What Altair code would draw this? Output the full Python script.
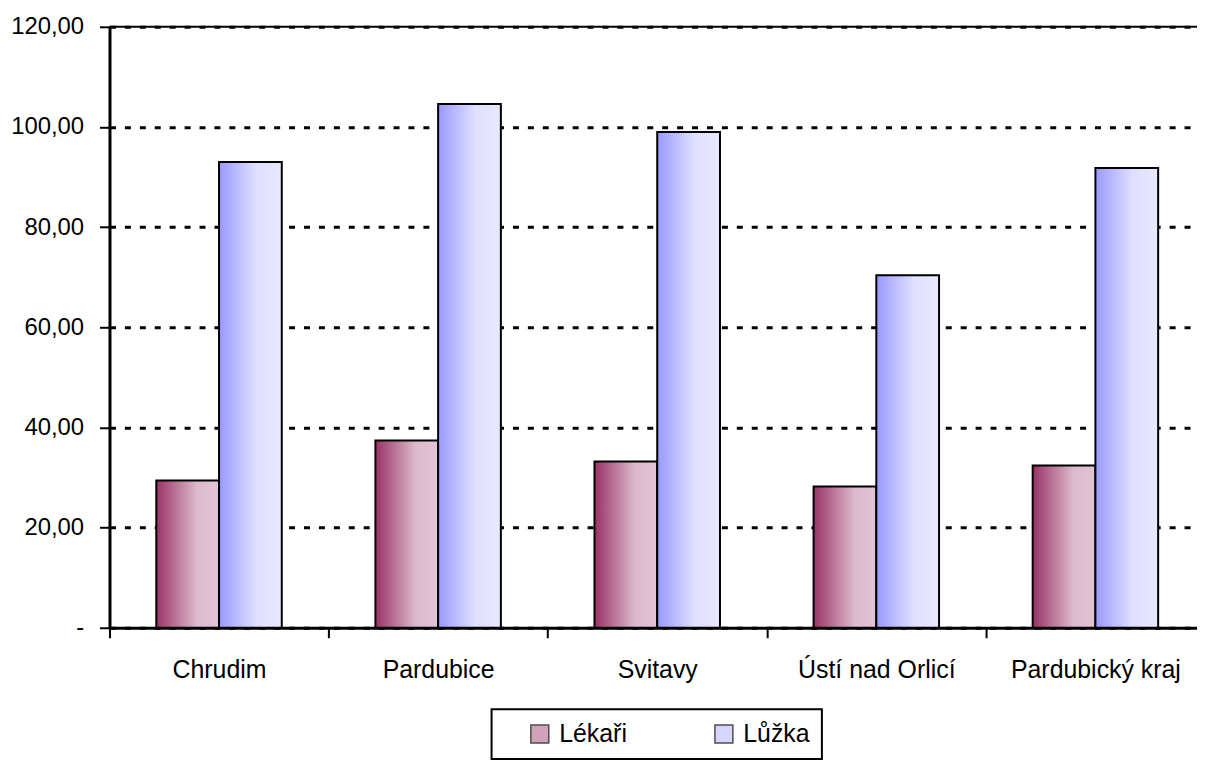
import altair as alt
import pandas as pd

categories = ["Chrudim", "Pardubice", "Svitavy", "Ústí nad Orlicí", "Pardubický kraj"]
series = ["Lékaři", "Lůžka"]
lekari = [29.4, 37.4, 33.2, 28.2, 32.4]
luzka = [93.0, 104.6, 99.0, 70.4, 91.8]
y_ticks = [0, 20, 40, 60, 80, 100, 120]

rows = []
for c, a, b in zip(categories, lekari, luzka):
    rows.append({"kraj": c, "serie": series[0], "hodnota": a})
    rows.append({"kraj": c, "serie": series[1], "hodnota": b})
df = pd.DataFrame(rows)
top_df = pd.DataFrame({"top": [y_ticks[-1]]})

FONT = "Liberation Sans"
FS = 25

grad_lek = alt.Gradient(
    gradient="linear", x1=0, x2=1, y1=0, y2=0,
    stops=[alt.GradientStop(offset=0, color="#993366"),
           alt.GradientStop(offset=0.65, color="#dcbacb"),
           alt.GradientStop(offset=1, color="#e2c4d4")])
grad_luz = alt.Gradient(
    gradient="linear", x1=0, x2=1, y1=0, y2=0,
    stops=[alt.GradientStop(offset=0, color="#9999ff"),
           alt.GradientStop(offset=0.6, color="#e0e0ff"),
           alt.GradientStop(offset=1, color="#e8e8ff")])

x_enc = alt.X("kraj:N", sort=categories, title=None,
              scale=alt.Scale(range=[0, 1101], paddingInner=0, paddingOuter=0),
              axis=alt.Axis(labelAngle=0, tickBand="extent", labelPadding=20))
xo_enc = alt.XOffset("serie:N", scale=alt.Scale(domain=series, paddingInner=0, paddingOuter=0.746))
y_enc = alt.Y("hodnota:Q", title=None,
              scale=alt.Scale(domain=[0, 120], nice=False),
              axis=alt.Axis(values=y_ticks, grid=True, gridColor="black", gridWidth=3,
                            gridDash=[6, 9], gridOpacity=1, labelPadding=16, labelFontSize=24,
                            labelExpr="datum.value == 0 ? '-' : replace(format(datum.value, '.2f'), '.', ',')"))

base = alt.Chart(df)

bars_lek = base.transform_filter(alt.datum.serie == series[0]).mark_bar(
    color=grad_lek, stroke="black", strokeWidth=2
).encode(x=x_enc, xOffset=xo_enc, y=y_enc)

bars_luz = base.transform_filter(alt.datum.serie == series[1]).mark_bar(
    color=grad_luz, stroke="black", strokeWidth=2
).encode(x=x_enc, xOffset=xo_enc, y=y_enc)

legend_layer = base.transform_filter("false").mark_square(size=1).encode(
    fill=alt.Fill("serie:N", scale=alt.Scale(domain=series, range=["#c07c9e", "#c4c4ff"]),
                  legend=alt.Legend(title=None, orient="none", legendX=384, legendY=686,
                                    direction="horizontal"))
)

top_rule = alt.Chart(top_df).mark_rule(color="black", strokeWidth=2).encode(
    y=alt.Y("top:Q", scale=alt.Scale(domain=[0, 120], nice=False))
)

chart = alt.layer(bars_lek, bars_luz, top_rule, legend_layer).properties(
    width=1093, height=604,
    autosize=alt.AutoSizeParams(type="none"),
    padding={"left": 102, "top": 17, "right": 0, "bottom": 131},
).configure_view(stroke=None).configure_axis(
    labelFont=FONT, labelFontSize=FS, labelColor="black",
    domainColor="black", domainWidth=3, tickColor="black", tickWidth=2, tickSize=10,
).configure_axisX(grid=False).configure_legend(
    labelFont=FONT, labelFontSize=FS, labelColor="black",
    symbolType="square", symbolSize=324, symbolStrokeColor="black", symbolStrokeWidth=1.5,
    labelOffset=7, columnPadding=60, padding=12, symbolOffset=24,
    strokeColor="black", strokeWidth=2,
)

chart.save("out.html", embed_options={"renderer": "svg", "actions": False})
